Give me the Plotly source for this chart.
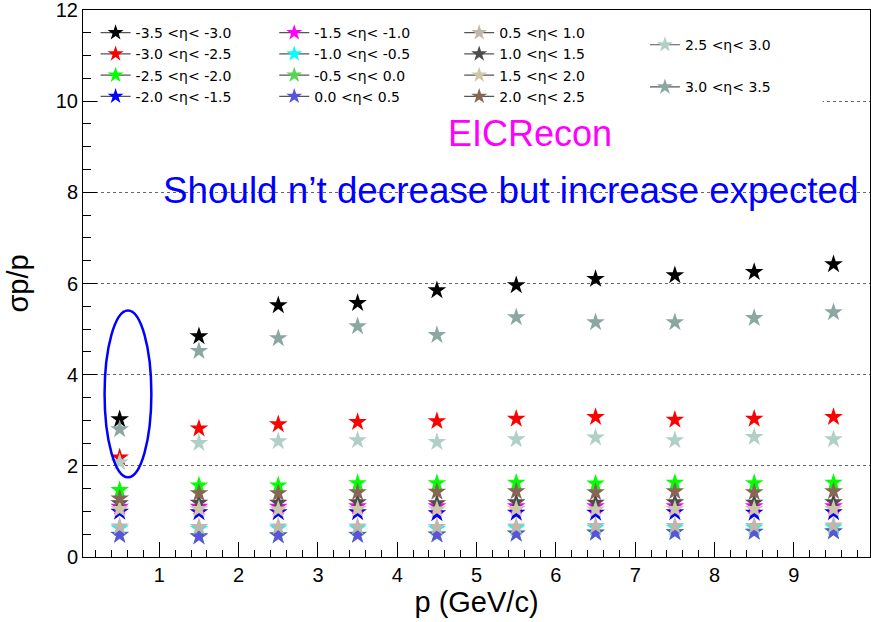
import plotly.graph_objects as go

# ---------------- data ----------------
p_centers = [0.5, 1.5, 2.5, 3.5, 4.5, 5.5, 6.5, 7.5, 8.5, 9.5]

eta_labels = [
    "-3.5 <η< -3.0", "-3.0 <η< -2.5", "-2.5 <η< -2.0", "-2.0 <η< -1.5",
    "-1.5 <η< -1.0", "-1.0 <η< -0.5", "-0.5 <η< 0.0", "0.0 <η< 0.5",
    "0.5 <η< 1.0", "1.0 <η< 1.5", "1.5 <η< 2.0", "2.0 <η< 2.5",
    "2.5 <η< 3.0", "3.0 <η< 3.5",
]

res_m35_m30 = [3.02, 4.84, 5.52, 5.57, 5.85, 5.96, 6.10, 6.18, 6.25, 6.42]
res_m30_m25 = [2.18, 2.82, 2.91, 2.96, 2.98, 3.03, 3.07, 3.01, 3.03, 3.07]
res_m25_m20 = [1.47, 1.57, 1.57, 1.62, 1.62, 1.63, 1.61, 1.63, 1.62, 1.63]
res_m20_m15 = [0.99, 0.98, 0.98, 0.98, 0.96, 0.97, 0.97, 0.98, 0.97, 0.98]
res_m15_m10 = [1.10, 1.10, 1.10, 1.11, 1.11, 1.11, 1.11, 1.11, 1.11, 1.11]
res_m10_m05 = [0.63, 0.62, 0.63, 0.63, 0.62, 0.63, 0.64, 0.64, 0.64, 0.65]
res_m05_p00 = [0.49, 0.46, 0.48, 0.49, 0.50, 0.52, 0.54, 0.55, 0.56, 0.57]
res_p00_p05 = [0.48, 0.45, 0.47, 0.48, 0.49, 0.51, 0.53, 0.54, 0.55, 0.56]
res_p05_p10 = [0.67, 0.66, 0.67, 0.67, 0.66, 0.67, 0.68, 0.68, 0.68, 0.69]
res_p10_p15 = [1.18, 1.19, 1.19, 1.20, 1.18, 1.20, 1.19, 1.20, 1.19, 1.20]
res_p15_p20 = [1.05, 1.05, 1.04, 1.05, 1.04, 1.05, 1.04, 1.05, 1.05, 1.05]
res_p20_p25 = [1.28, 1.40, 1.40, 1.42, 1.43, 1.44, 1.42, 1.44, 1.42, 1.44]
res_p25_p30 = [2.08, 2.50, 2.54, 2.56, 2.52, 2.58, 2.62, 2.56, 2.63, 2.58]
res_p30_p35 = [2.80, 4.52, 4.80, 5.06, 4.87, 5.26, 5.15, 5.15, 5.24, 5.37]

series_values = [
    res_m35_m30, res_m30_m25, res_m25_m20, res_m20_m15, res_m15_m10,
    res_m10_m05, res_m05_p00, res_p00_p05, res_p05_p10, res_p10_p15,
    res_p15_p20, res_p20_p25, res_p25_p30, res_p30_p35,
]

colors = [
    "#000000", "#ff0000", "#00ff00", "#0000ff", "#ff00ff", "#00ffff",
    "#59d454", "#5954d9", "#c0b6ac", "#4c4c4c", "#cdc7aa", "#876656",
    "#b0cfc7", "#8aa8a1",
]
legend_ids = ["legend"] * 4 + ["legend2"] * 4 + ["legend3"] * 4 + ["legend4"] * 2

y_ticks = [0, 2, 4, 6, 8, 10, 12]
x_ticks = [1, 2, 3, 4, 5, 6, 7, 8, 9]

FONT = "Liberation Sans, Arial, sans-serif"

# ---------------- figure ----------------
fig = go.Figure()

for lab, col, vals in zip(eta_labels, colors, series_values):
    fig.add_trace(go.Scatter(
        x=p_centers, y=vals, mode="markers", name=lab, showlegend=False,
        marker=dict(symbol="star", size=14, color=col, line=dict(width=0)),
    ))

# legend entries (line + marker, like ROOT "LP")
for i, (lab, col, lg) in enumerate(zip(eta_labels, colors, legend_ids)):
    fig.add_trace(go.Scatter(
        x=[None], y=[None], mode="lines+markers", name=lab, legend=lg,
        legendgroup=(f"g{i}" if lg == "legend4" else None),
        marker=dict(symbol="star", size=12, color=col, line=dict(width=0)),
        line=dict(color="#555555", width=1.2),
    ))

leg_font = dict(family="DejaVu Sans, sans-serif", size=14, color="#000000")
common_leg = dict(bgcolor="rgba(0,0,0,0)", borderwidth=0, font=leg_font,
                  xanchor="left", yanchor="top", itemclick=False)
fig.update_layout(
    legend=dict(x=0.016, y=0.987, traceorder="normal", **common_leg),
    legend2=dict(x=0.243, y=0.987, traceorder="normal", **common_leg),
    legend3=dict(x=0.478, y=0.987, traceorder="normal", **common_leg),
    legend4=dict(x=0.714, y=0.965, tracegroupgap=21, traceorder="grouped", **common_leg),
)

axis_font = dict(family=FONT, size=20, color="#000000")

fig.update_xaxes(
    range=[0.038, 9.96], tickvals=x_ticks, ticks="inside", ticklen=15,
    tickcolor="#000000", tickwidth=1,
    minor=dict(dtick=0.2, tick0=0, ticks="inside", ticklen=7, tickcolor="#000000"),
    showgrid=False, zeroline=False, showline=True, linecolor="#000000",
    linewidth=1, mirror=True, tickfont=axis_font, ticklabeloverflow="allow",
    title=dict(text="p (GeV/c)", font=dict(family=FONT, size=29), standoff=2),
)
fig.update_yaxes(
    range=[0, 12], tickvals=y_ticks, ticks="inside", ticklen=14,
    tickcolor="#000000", tickwidth=1,
    minor=dict(dtick=0.5, tick0=0, ticks="inside", ticklen=8, tickcolor="#000000",
               showgrid=False),
    showgrid=True, gridcolor="#666666", griddash="dot", gridwidth=1,
    zeroline=False, showline=True, linecolor="#000000", linewidth=1, mirror=True,
    tickfont=axis_font, ticklabeloverflow="allow",
    title=dict(text="σp/p", font=dict(family=FONT, size=29), standoff=18),
)

# white legend pad hiding the gridline behind the legend (ROOT TLegend fill)
fig.add_shape(type="rect", xref="paper", yref="paper", x0=0.021, x1=0.940,
              y0=0.821, y1=0.996, fillcolor="white", line=dict(width=0), layer="above")

# highlight ellipse
fig.add_shape(type="circle", xref="x", yref="y", x0=0.31, x1=0.90, y0=1.75, y1=5.41,
              line=dict(color="#0000ff", width=2.5), fillcolor="rgba(0,0,0,0)")

fig.add_annotation(text="EICRecon", xref="paper", yref="paper", x=0.568, y=0.775,
                   xanchor="center", yanchor="middle", showarrow=False,
                   font=dict(family=FONT, size=36, color="#ff00ff"))
fig.add_annotation(text="Should n’t decrease but increase expected", xref="paper", yref="paper",
                   x=0.0991, y=0.6708, xanchor="left", yanchor="middle", showarrow=False,
                   font=dict(family=FONT, size=36.8, color="#0000ff"))

fig.update_layout(
    width=871, height=622,
    margin=dict(l=83, r=1, t=10, b=65, autoexpand=False),
    plot_bgcolor="white", paper_bgcolor="white",
    font=dict(family=FONT, color="#000000"),
)

fig.write_html("out.html", config={"displayModeBar": False},
               post_script="document.body.style.margin='0px';")
